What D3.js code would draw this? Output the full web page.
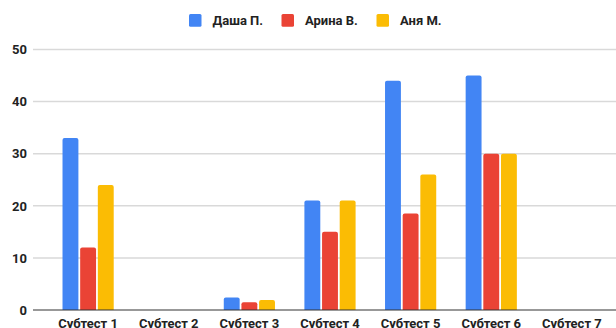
<!DOCTYPE html>
<html><head><meta charset="utf-8">
<script src="https://cdn.jsdelivr.net/npm/d3@7"></script>
<style>body{margin:0;background:#fff;}svg{display:block;font-family:Roboto,Arial,sans-serif;}</style>
</head><body><svg id="c" width="616" height="328"></svg>
<script>
const categories = ["Субтест 1","Субтест 2","Субтест 3","Субтест 4","Субтест 5","Субтест 6","Субтест 7"];
const seriesNames = ["Даша П.","Арина В.","Аня М."];
const dasha = [33, null, 2.4, 21, 44, 45, null];
const arina = [12, null, 1.5, 15, 18.5, 30, null];
const anya = [24, null, 1.9, 21, 26, 30, null];
const yTicks = [0,10,20,30,40,50];
const colors = ["#4285f4","#ea4335","#fbbc04"];
const series = [dasha, arina, anya];

const svg = d3.select("#c");
const y = d3.scaleLinear().domain([0,50]).range([310,49.5]);
const x = d3.scaleBand().domain(categories).range([48,612]).paddingInner(0.365).paddingOuter(0.18);
const xs = d3.scaleBand().domain(seriesNames).range([0,x.bandwidth()]).paddingInner(0.1);

// gridlines
svg.append("g").selectAll("line").data(yTicks.filter(d=>d>0)).join("line")
  .attr("x1",33).attr("x2",616).attr("y1",d=>y(d)).attr("y2",d=>y(d))
  .attr("stroke","#d9d9d9").attr("stroke-width",1.5);

// y labels
svg.append("g").selectAll("text").data(yTicks).join("text")
  .attr("x",27).attr("y",d=>y(d)+4.7).attr("text-anchor","end")
  .attr("font-size",13).attr("font-weight","bold").attr("fill","#222").text(d=>d);

// bars
function barPath(x0,w,yt,yb,r){
  r=Math.min(r,(yb-yt),w/2);
  return `M${x0},${yb}V${yt+r}Q${x0},${yt} ${x0+r},${yt}H${x0+w-r}Q${x0+w},${yt} ${x0+w},${yt+r}V${yb}Z`;
}
series.forEach((vals,si)=>{
  svg.append("g").selectAll("path").data(categories.map((c,i)=>({c,v:vals[i]})).filter(d=>d.v!=null)).join("path")
    .attr("fill",colors[si])
    .attr("d",d=>barPath(x(d.c)+xs(seriesNames[si]), xs.bandwidth(), y(d.v), y(0), 2));
});

// axis line
svg.append("line").attr("x1",33).attr("x2",616).attr("y1",310).attr("y2",310).attr("stroke","#333").attr("stroke-width",1.2);

// x labels
svg.append("g").selectAll("text").data(categories).join("text")
  .attr("x",d=>x(d)+x.bandwidth()/2).attr("y",327.5).attr("text-anchor","middle")
  .attr("font-size",13).attr("font-weight","bold").attr("fill","#222").text(d=>d);

// legend
const legX = [189,281.5,376.5];
const lg = svg.append("g").selectAll("g").data(seriesNames).join("g")
  .attr("transform",(d,i)=>`translate(${legX[i]},14)`);
lg.append("rect").attr("width",12.5).attr("height",12.7).attr("rx",1.5).attr("fill",(d,i)=>colors[i]);
lg.append("text").attr("x",23.5).attr("y",11).attr("font-size",13).attr("font-weight","bold").attr("fill","#222").text(d=>d);
</script></body></html>
